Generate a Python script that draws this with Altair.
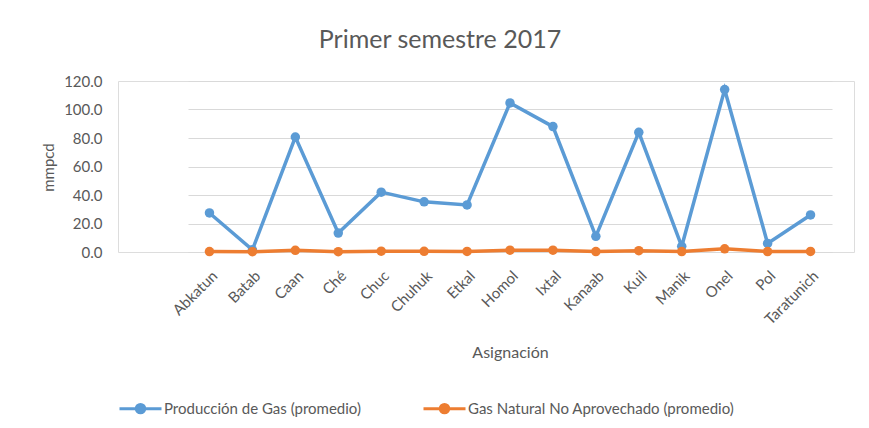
import altair as alt
import pandas as pd

categories = ["Abkatun", "Batab", "Caan", "Ché", "Chuc", "Chuhuk", "Etkal", "Homol",
              "Ixtal", "Kanaab", "Kuil", "Manik", "Onel", "Pol", "Taratunich"]
produccion = [27.4, 1.5, 80.7, 13.3, 42.0, 35.2, 33.0, 104.6, 88.0, 11.0, 84.0, 4.0, 114.0, 6.0, 26.0]
no_aprovechado = [0.3, 0.2, 1.2, 0.2, 0.6, 0.5, 0.4, 1.3, 1.3, 0.3, 0.9, 0.3, 2.2, 0.3, 0.4]
series_names = ["Producción de Gas (promedio)", "Gas Natural No Aprovechado  (promedio)"]
colors = ["#5B9BD5", "#ED7D31"]
y_ticks = [0, 20, 40, 60, 80, 100, 120]

rows = []
for s, vals in zip(series_names, [produccion, no_aprovechado]):
    for i, (c, v) in enumerate(zip(categories, vals)):
        rows.append({"Asignación": c, "mmpcd": v, "serie": s, "orden": series_names.index(s)})
df = pd.DataFrame(rows)

legend_shape = ("M-1,0 L1,0 "
                "M-0.2,0 A0.2,0.2 0 1,0 0.2,0 A0.2,0.2 0 1,0 -0.2,0 "
                "M-0.13,0 A0.13,0.13 0 1,0 0.13,0 A0.13,0.13 0 1,0 -0.13,0 "
                "M-0.06,0 A0.06,0.06 0 1,0 0.06,0 A0.06,0.06 0 1,0 -0.06,0")

x = alt.X("Asignación:N", sort=categories,
          scale=alt.Scale(type="point", range=[70, 714]),
          axis=alt.Axis(title="Asignación", labelAngle=-45, labelAlign="right", labelBaseline="top",
                        labelPadding=16, tickSize=0, domain=True, domainColor="#D9D9D9",
                        labelFontSize=15, labelColor="#595959", labelFont="Lato",
                        titleFont="Lato", titleFontSize=16, titleColor="#595959", titleFontWeight="normal",
                        titleY=92, titleBaseline="top", grid=False))
y = alt.Y("mmpcd:Q", scale=alt.Scale(domain=[0, 120], nice=False),
          axis=alt.Axis(title="mmpcd", values=y_ticks, format=".1f", tickSize=0, domain=False,
                        labelPadding=16, labelFontSize=15, labelColor="#595959", labelFont="Lato",
                        titleFont="Lato", titleFontSize=15, titleColor="#595959", titleFontWeight="normal",
                        titleX=-70, titleY=86, titleBaseline="middle",
                        gridColor="#D9D9D9", gridWidth=1))
color = alt.Color("serie:N", sort=series_names,
                  scale=alt.Scale(domain=series_names, range=colors),
                  legend=alt.Legend(title=None, orient="none", direction="horizontal",
                                    legendX=0, legendY=305, symbolType=legend_shape, symbolSize=1764,
                                    symbolStrokeWidth=3, labelFont="Lato", labelFontSize=15,
                                    labelColor="#595959", columnPadding=56, labelOffset=1,
                                    labelLimit=400))

base = alt.Chart(df).encode(x=x, y=y, color=color, order=alt.Order("orden:Q"))
lines = base.mark_line(strokeWidth=3.5)
points = base.mark_point(filled=True, size=90, opacity=1)

chart = alt.layer(lines, points).properties(
    width=736, height=171,
    title=alt.TitleParams("Primer semestre 2017", font="Lato", fontSize=25, color="#595959",
                          fontWeight="normal", anchor="middle", dx=-46, offset=21),
    padding={"left": 110, "top": 73, "right": 7, "bottom": 168},
    autosize="none",
).configure_view(stroke=None).configure(background="white")

chart.save("out.html", embed_options={"renderer": "svg", "actions": False})
